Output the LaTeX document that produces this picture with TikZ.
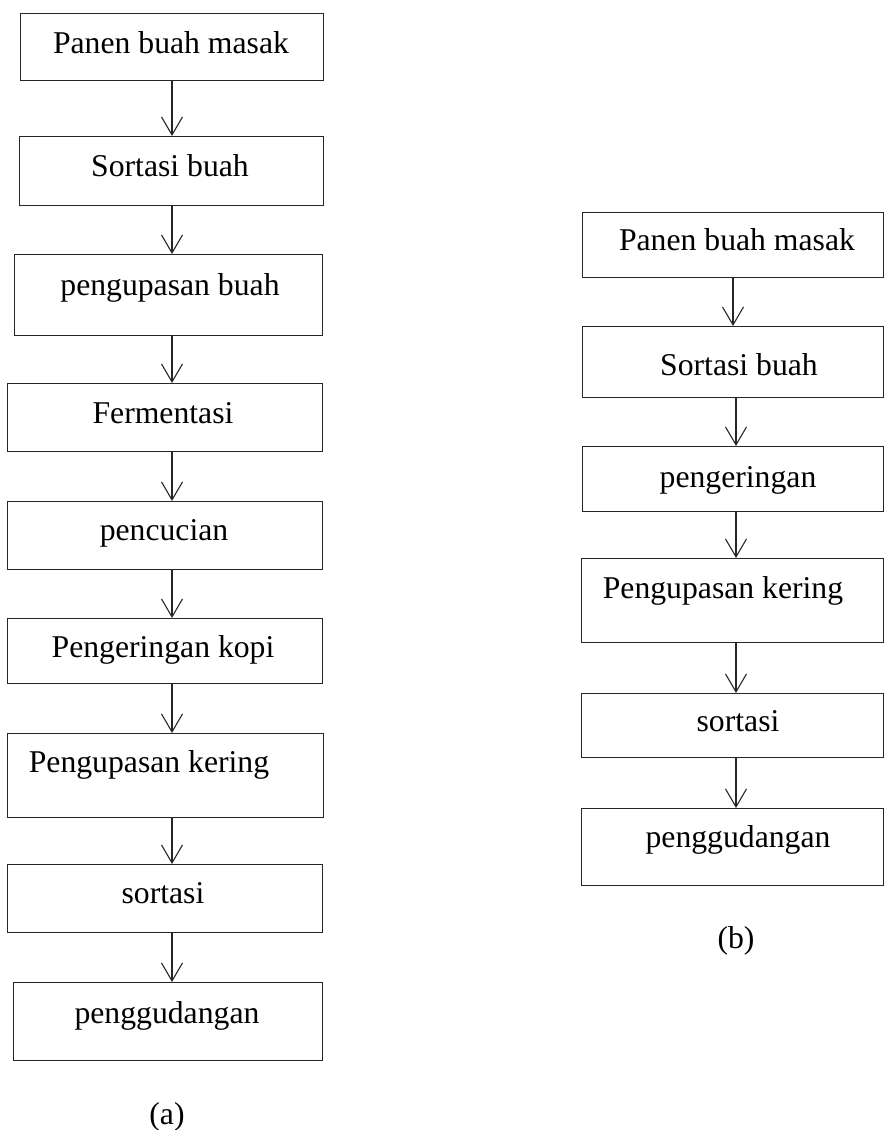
\documentclass[tikz,border=0pt]{standalone}
\usepackage{fontspec}
\setmainfont{Liberation Serif}
\usetikzlibrary{arrows.meta}

\tikzset{
  stepbox/.style={draw=black!85, line width=1.1pt, rectangle, inner sep=0pt, anchor=north west},
  steptext/.style={font=\fontsize{31.7}{34}\selectfont, anchor=base, inner sep=0pt},
  flow/.style={draw=black!85, line width=1.1pt, -{Straight Barb[length=18pt,width=21pt,line width=1.1pt]}},
}

\begin{document}
\begin{tikzpicture}[x=1pt, y=-1pt]
\useasboundingbox (0,0) rectangle (885,1130);

% ---- left chain (a) ----
\node[stepbox, minimum width=303pt, minimum height=67pt] (a1) at (20,13) {};
\node[stepbox, minimum width=304pt, minimum height=69pt] (a2) at (19,136) {};
\node[stepbox, minimum width=308pt, minimum height=81pt] (a3) at (14,254) {};
\node[stepbox, minimum width=315pt, minimum height=68pt] (a4) at (7,383) {};
\node[stepbox, minimum width=315pt, minimum height=68pt] (a5) at (7,501) {};
\node[stepbox, minimum width=315pt, minimum height=65pt] (a6) at (7,618) {};
\node[stepbox, minimum width=316pt, minimum height=84pt] (a7) at (7,733) {};
\node[stepbox, minimum width=315pt, minimum height=68pt] (a8) at (7,864) {};
\node[stepbox, minimum width=309pt, minimum height=78pt] (a9) at (13,982) {};

\node[steptext] (ta1) at (171,53) {Panen buah masak};
\node[steptext] (ta2) at (170,176) {Sortasi buah};
\node[steptext] (ta3) at (170,295) {pengupasan buah};
\node[steptext] (ta4) at (163,423) {Fermentasi};
\node[steptext] (ta5) at (164,540) {pencucian};
\node[steptext] (ta6) at (163,657) {Pengeringan kopi};
\node[steptext] (ta7) at (149,772) {Pengupasan kering};
\node[steptext] (ta8) at (163,903) {sortasi};
\node[steptext] (ta9) at (167,1023) {penggudangan};
\node[steptext] (capa) at (167,1124) {(a)};

\foreach \s/\t in {a1/a2,a2/a3,a3/a4,a4/a5,a5/a6,a6/a7,a7/a8,a8/a9}
  \draw[flow] (\s.south -| 172,0) -- (\t.north -| 172,0);

% ---- right chain (b) ----
\node[stepbox, minimum width=301pt, minimum height=65pt] (b1) at (582,212) {};
\node[stepbox, minimum width=301pt, minimum height=71pt] (b2) at (582,326) {};
\node[stepbox, minimum width=301pt, minimum height=65pt] (b3) at (582,446) {};
\node[stepbox, minimum width=302pt, minimum height=84pt] (b4) at (581,558) {};
\node[stepbox, minimum width=302pt, minimum height=64pt] (b5) at (581,693) {};
\node[stepbox, minimum width=302pt, minimum height=77pt] (b6) at (581,808) {};

\node[steptext] (tb1) at (737,250) {Panen buah masak};
\node[steptext] (tb2) at (739,375) {Sortasi buah};
\node[steptext] (tb3) at (738,487) {pengeringan};
\node[steptext] (tb4) at (723,598) {Pengupasan kering};
\node[steptext] (tb5) at (738,731) {sortasi};
\node[steptext] (tb6) at (738,847) {penggudangan};
\node[steptext] (capb) at (736,948) {(b)};

\draw[flow] (b1.south -| 733,0) -- (b2.north -| 733,0);
\foreach \s/\t in {b2/b3,b3/b4,b4/b5,b5/b6}
  \draw[flow] (\s.south -| 736,0) -- (\t.north -| 736,0);
\end{tikzpicture}
\end{document}
